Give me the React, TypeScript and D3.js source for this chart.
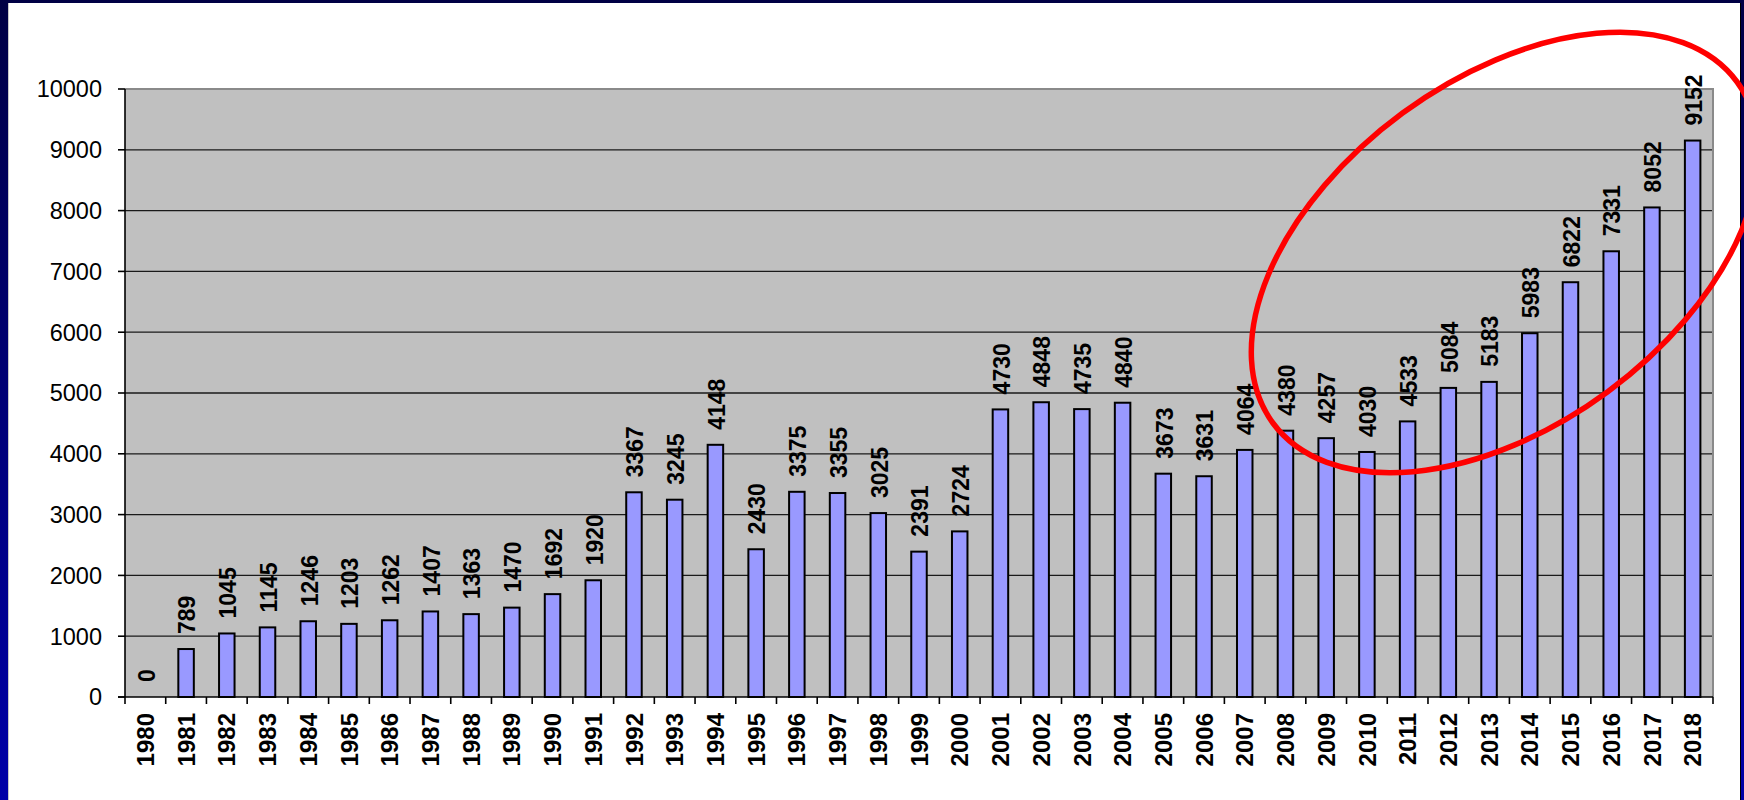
import React from "react";
import * as d3 from "d3";

// Yearly totals, 1980–2018
const years: string[] = [
  "1980", "1981", "1982", "1983", "1984", "1985", "1986", "1987", "1988", "1989",
  "1990", "1991", "1992", "1993", "1994", "1995", "1996", "1997", "1998", "1999",
  "2000", "2001", "2002", "2003", "2004", "2005", "2006", "2007", "2008", "2009",
  "2010", "2011", "2012", "2013", "2014", "2015", "2016", "2017", "2018",
];
const values: number[] = [
  0, 789, 1045, 1145, 1246, 1203, 1262, 1407, 1363, 1470,
  1692, 1920, 3367, 3245, 4148, 2430, 3375, 3355, 3025, 2391,
  2724, 4730, 4848, 4735, 4840, 3673, 3631, 4064, 4380, 4257,
  4030, 4533, 5084, 5183, 5983, 6822, 7331, 8052, 9152,
];
const yTicks: number[] = [0, 1000, 2000, 3000, 4000, 5000, 6000, 7000, 8000, 9000, 10000];

const W = 1744;
const H = 800;
const plot = { left: 125, right: 1713, top: 89, bottom: 697 };
const FONT = "'Liberation Sans', Arial, Helvetica, sans-serif";

export default function App() {
  const x = d3
    .scaleBand<string>()
    .domain(years)
    .range([plot.left, plot.right])
    .paddingInner(0)
    .paddingOuter(0);
  const y = d3.scaleLinear().domain([0, 10000]).range([plot.bottom, plot.top]);
  const bw = x.bandwidth();
  const barW = 15.5;

  return (
    <svg
      width={W}
      height={H}
      viewBox={`0 0 ${W} ${H}`}
      style={{ position: "absolute", left: 0, top: 0, display: "block" }}
      fontFamily={FONT}
    >
      <defs>
        <linearGradient id="frame" x1="0" y1="0" x2="0" y2="1">
          <stop offset="0" stopColor="#000044" />
          <stop offset="1" stopColor="#0000a8" />
        </linearGradient>
      </defs>

      {/* slide frame */}
      <rect x={0} y={0} width={W} height={H} fill="url(#frame)" />
      <rect x={8} y={3} width={1732} height={H} fill="#ffffff" />
      <line x1={8.5} y1={3} x2={8.5} y2={H} stroke="#c8c8c8" strokeWidth={1} />
      <line x1={1740.5} y1={3} x2={1740.5} y2={H} stroke="#000000" strokeWidth={1} />

      {/* plot area */}
      <rect
        x={plot.left}
        y={plot.top}
        width={plot.right - plot.left}
        height={plot.bottom - plot.top}
        fill="#c0c0c0"
      />

      {/* gridlines */}
      {yTicks
        .filter((t) => t > 0 && t < 10000)
        .map((t) => (
          <line
            key={`g${t}`}
            x1={plot.left}
            x2={plot.right}
            y1={y(t)}
            y2={y(t)}
            stroke="#1a1a1a"
            strokeWidth={1.3}
          />
        ))}

      {/* plot border (top and right) */}
      <path
        d={`M${plot.left},${plot.top}H${plot.right}V${plot.bottom}`}
        fill="none"
        stroke="#8a8a8a"
        strokeWidth={2}
      />

      {/* bars */}
      {years.map((yr, i) => {
        const v = values[i];
        if (v <= 0) return null;
        const cx = (x(yr) as number) + bw / 2;
        return (
          <rect
            key={`b${yr}`}
            x={cx - barW / 2}
            y={y(v)}
            width={barW}
            height={y(0) - y(v)}
            fill="#9999ff"
            stroke="#000000"
            strokeWidth={2}
          />
        );
      })}

      {/* axes */}
      <line x1={plot.left} x2={plot.left} y1={plot.top} y2={plot.bottom} stroke="#000" strokeWidth={1.6} />
      <line x1={plot.left - 7} x2={plot.right} y1={plot.bottom} y2={plot.bottom} stroke="#000" strokeWidth={1.6} />
      {yTicks.map((t) => (
        <g key={`yt${t}`}>
          <line x1={plot.left - 7} x2={plot.left} y1={y(t)} y2={y(t)} stroke="#000" strokeWidth={1.6} />
          <text
            x={102}
            y={y(t)}
            dy="0.36em"
            textAnchor="end"
            fontSize={23.5}
            fill="#000"
          >
            {t}
          </text>
        </g>
      ))}
      {[...years.map((yr) => x(yr) as number), plot.right].map((px, i) => (
        <line
          key={`xt${i}`}
          x1={px}
          x2={px}
          y1={plot.bottom}
          y2={plot.bottom + 7}
          stroke="#000"
          strokeWidth={1.6}
        />
      ))}

      {/* year labels */}
      {years.map((yr) => {
        const cx = (x(yr) as number) + bw / 2;
        return (
          <text
            key={`xl${yr}`}
            transform={`translate(${cx},${plot.bottom + 16}) rotate(-90)`}
            dy="0.36em"
            textAnchor="end"
            fontSize={24}
            fontWeight="bold"
            fill="#000"
          >
            {yr}
          </text>
        );
      })}

      {/* value labels */}
      {years.map((yr, i) => {
        const cx = (x(yr) as number) + bw / 2;
        return (
          <text
            key={`vl${yr}`}
            transform={`translate(${cx + 1},${y(values[i]) - 15}) rotate(-90)`}
            dy="0.36em"
            textAnchor="start"
            fontSize={23}
            fontWeight="bold"
            fill="#000"
          >
            {values[i]}
          </text>
        );
      })}

      {/* highlight ellipse around the recent growth */}
      <ellipse
        cx={0}
        cy={0}
        rx={288}
        ry={173}
        transform="translate(1505,252.5) rotate(-36.3)"
        fill="none"
        stroke="#ff0000"
        strokeWidth={5.5}
      />
    </svg>
  );
}
